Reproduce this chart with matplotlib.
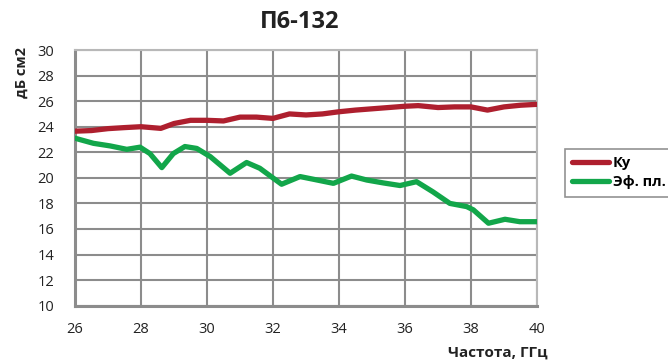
import matplotlib
matplotlib.use("Agg")
import matplotlib.pyplot as plt

plt.rcParams['font.family'] = ['Open Sans', 'DejaVu Sans']

# частота, ГГц
freq_ku = [26.0, 26.5, 27.0, 27.5, 28.0, 28.6, 29.0, 29.5, 30.0, 30.5, 31.0,
           31.5, 32.0, 32.5, 33.0, 33.5, 34.0, 34.5, 35.0, 35.5, 36.0, 36.4,
           37.0, 37.5, 38.0, 38.5, 39.0, 39.5, 40.0]
ku = [23.65, 23.7, 23.85, 23.93, 24.0, 23.87, 24.25, 24.5, 24.5, 24.45, 24.75,
      24.75, 24.65, 25.0, 24.92, 25.0, 25.17, 25.3, 25.4, 25.5, 25.6, 25.65,
      25.5, 25.55, 25.55, 25.3, 25.55, 25.68, 25.75]

freq_ef = [26.0, 26.56, 27.06, 27.57, 27.97, 28.27, 28.63, 28.98, 29.33, 29.69,
           30.1, 30.7, 31.2, 31.6, 32.26, 32.82, 33.3, 33.83, 34.38, 34.84,
           35.35, 35.85, 36.35, 36.85, 37.36, 37.87, 38.07, 38.53, 39.03,
           39.48, 40.0]
ef = [23.1, 22.7, 22.5, 22.23, 22.4, 21.9, 20.8, 21.9, 22.45, 22.3,
      21.66, 20.36, 21.2, 20.75, 19.5, 20.1, 19.85, 19.57, 20.14, 19.83,
      19.6, 19.4, 19.7, 18.9, 18.0, 17.75, 17.5, 16.45, 16.76, 16.57, 16.57]

x_ticks = [26, 28, 30, 32, 34, 36, 38, 40]
y_ticks = [10, 12, 14, 16, 18, 20, 22, 24, 26, 28, 30]

fig = plt.figure(figsize=(6.68, 3.62), dpi=100)
ax = fig.add_axes([75 / 668, 1 - 305.7 / 362, 462 / 668, 255.7 / 362])

ax.plot(freq_ku, ku, color='#AE1F2E', linewidth=3.8, solid_capstyle='round',
        solid_joinstyle='round', label='Ку', zorder=3)
ax.plot(freq_ef, ef, color='#12A64A', linewidth=3.8, solid_capstyle='round',
        solid_joinstyle='round', label='Эф. пл.', zorder=3)

ax.set_xlim(26, 40)
ax.set_ylim(10, 30)
ax.set_xticks(x_ticks)
ax.set_yticks(y_ticks)
ax.grid(True, color='#8c8c8c', linewidth=1.5)
ax.set_axisbelow(True)
for side in ['left', 'bottom']:
    ax.spines[side].set_color('#8c8c8c')
    ax.spines[side].set_linewidth(2.2)
for side in ['top', 'right']:
    ax.spines[side].set_color('#b8b8b8')
    ax.spines[side].set_linewidth(1.5)
ax.tick_params(length=0, labelsize=10.5, colors='#222222')
ax.tick_params(axis='y', pad=15)
ax.tick_params(axis='x', pad=12)

fig.text(0.449, 0.938, 'П6-132', ha='center', va='center', fontsize=17,
         fontweight='bold', color='#222222')
fig.text(0.033, 0.8, 'дБ см2', rotation=90, ha='center', va='center',
         fontsize=10.5, fontweight='bold', color='#222222')
fig.text(0.82, 0.027, 'Частота, ГГц', ha='right', va='center', fontsize=11,
         fontweight='bold', color='#222222')

# легенда упирается в правый край рисунка
leg = fig.legend(loc='upper left', bbox_to_anchor=(565 / 668, 1 - 149 / 362),
                 borderaxespad=0, frameon=True, handlelength=2.5,
                 borderpad=0.5, labelspacing=0.35, handletextpad=0.3,
                 fancybox=False, prop={'weight': 'bold', 'size': 10.5})
leg.get_frame().set_edgecolor('#777777')
leg.get_frame().set_linewidth(1.2)
for line in leg.get_lines():
    line.set_solid_capstyle('round')

fig.savefig('out.png', dpi=100)
